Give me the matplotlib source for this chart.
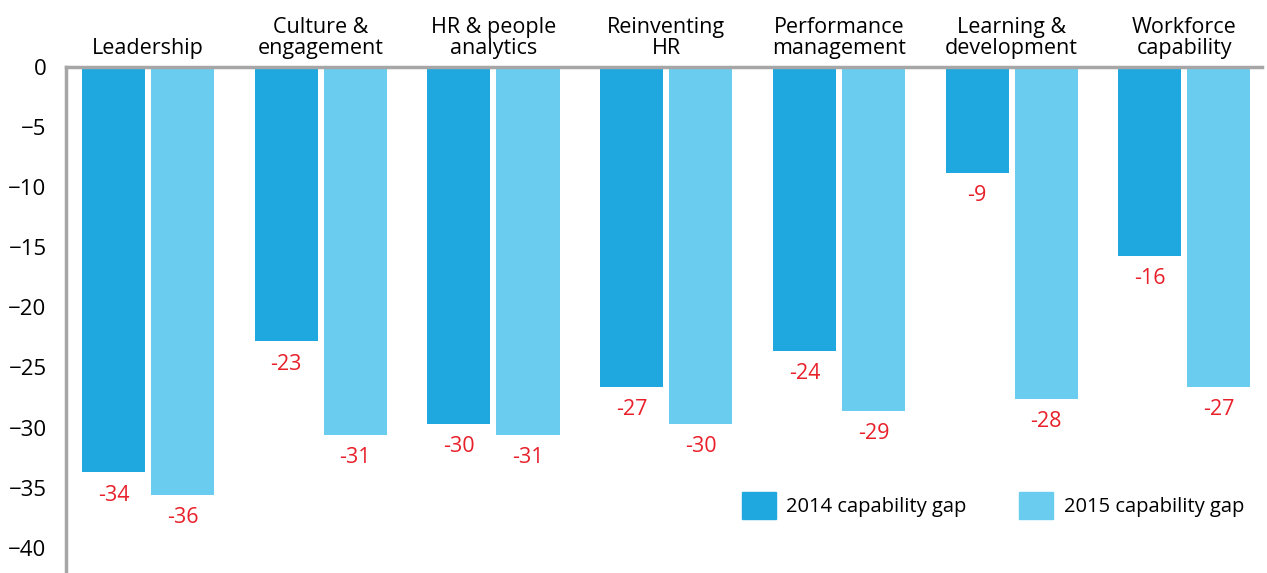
import numpy as np
import matplotlib.pyplot as plt
from matplotlib.patches import Patch

plt.rcParams['font.family'] = ['Open Sans', 'DejaVu Sans']

categories = ["Leadership", "Culture &\nengagement", "HR & people\nanalytics", "Reinventing\nHR",
              "Performance\nmanagement", "Learning &\ndevelopment", "Workforce\ncapability"]
gap_2014 = [-33.7, -22.8, -29.7, -26.6, -23.6, -8.8, -15.7]
gap_2015 = [-35.6, -30.6, -30.6, -29.7, -28.6, -27.6, -26.6]
labels_2014 = [-34, -23, -30, -27, -24, -9, -16]
labels_2015 = [-36, -31, -31, -30, -29, -28, -27]

c2014 = '#1fa8e0'
c2015 = '#6acdf0'
red = '#e8202a'
grey = '#a6a6a6'

fig = plt.figure(figsize=(12.67, 5.73), dpi=100)
ax = fig.add_axes([66 / 1267, 0, (1262 - 66) / 1267, (573 - 67) / 573])

x = np.arange(len(categories))
w = 0.365
off = 0.2
ax.bar(x - off, gap_2014, w, color=c2014, label='2014 capability gap')
ax.bar(x + off, gap_2015, w, color=c2015, label='2015 capability gap')

# red value labels under each bar
for xi, v, lab in zip(x, gap_2014, labels_2014):
    ax.annotate(str(lab), (xi - off, v), xytext=(0, -9), textcoords='offset points',
                ha='center', va='top', color=red, fontsize=15.5)
for xi, v, lab in zip(x, gap_2015, labels_2015):
    ax.annotate(str(lab), (xi + off, v), xytext=(0, -9), textcoords='offset points',
                ha='center', va='top', color=red, fontsize=15.5)

ax.set_xlim(-0.475, 6.45)
ax.set_ylim(-42.1, 0)
ax.set_yticks(np.arange(0, -41, -5))
ax.tick_params(axis='y', length=0, labelsize=16, pad=14)

ax.xaxis.tick_top()
ax.set_xticks(x)
ax.set_xticklabels(categories, fontsize=15.5, linespacing=1.0)
ax.tick_params(axis='x', length=0, pad=6)

for s in ['right', 'bottom']:
    ax.spines[s].set_visible(False)
ax.spines['top'].set_color(grey)
ax.spines['top'].set_linewidth(2.5)
ax.spines['left'].set_color(grey)
ax.spines['left'].set_linewidth(2.5)

handles = [Patch(color=c2014, label='2014 capability gap'),
           Patch(color=c2015, label='2015 capability gap')]
ax.legend(handles=handles, ncol=2, frameon=False, fontsize=14.5,
          loc='lower right', bbox_to_anchor=(1.0, 0.07),
          handlelength=1.7, handleheight=1.7, handletextpad=0.5, columnspacing=2.6)

fig.savefig('out.png', dpi=100)
